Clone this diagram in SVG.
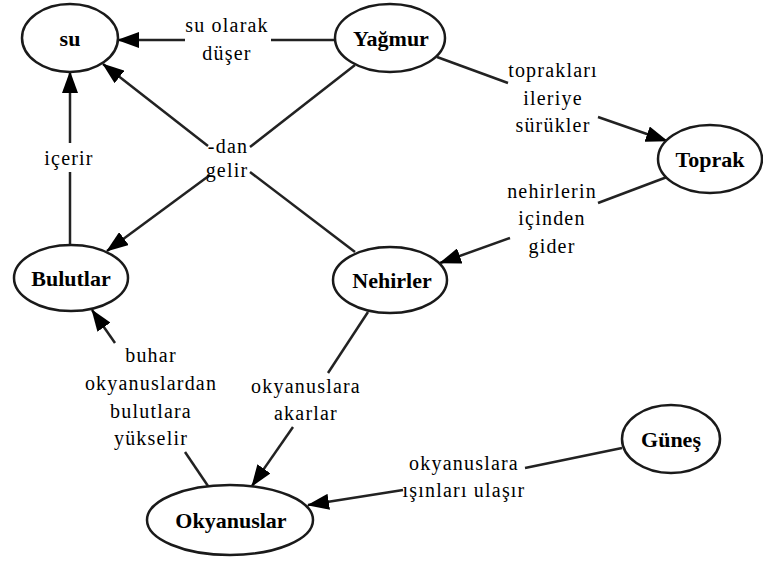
<svg xmlns="http://www.w3.org/2000/svg" width="763" height="561" viewBox="0 0 763 561">
<style>
.node ellipse{fill:#fff;stroke:#1a1a1a;stroke-width:2.5}
.node text{font-family:"Liberation Serif","Times New Roman",serif;font-weight:bold;font-size:22px;text-anchor:middle;fill:#000}
.lbl{font-family:"Liberation Serif","Times New Roman",serif;font-size:20px;letter-spacing:1.2px;text-anchor:middle;fill:#000}
.c line{stroke:#222;stroke-width:2.5;fill:none}
.c line.a{marker-end:url(#arr)}
</style>
<defs>
<marker id="arr" markerUnits="userSpaceOnUse" markerWidth="22" markerHeight="16" refX="21" refY="8" orient="auto">
<path d="M0,0 L22,8 L0,16 z" fill="#000"/>
</marker>
</defs>
<rect width="763" height="561" fill="#fff"/>
<g id="connectors" class="c">
<line x1="335" y1="40" x2="271" y2="40"/>
<line class="a" x1="185" y1="40" x2="118" y2="40"/>
<line x1="355" y1="65" x2="250" y2="147"/>
<line class="a" x1="208" y1="146" x2="103" y2="64"/>
<line class="a" x1="210" y1="175" x2="107" y2="251"/>
<line x1="250" y1="172" x2="355" y2="252"/>
<line x1="437" y1="57" x2="508" y2="83"/>
<line class="a" x1="598" y1="117" x2="667" y2="141"/>
<line x1="667" y1="177" x2="598" y2="203"/>
<line class="a" x1="510" y1="238" x2="440" y2="263"/>
<line x1="70" y1="245" x2="70" y2="172"/>
<line class="a" x1="70" y1="143" x2="70" y2="72"/>
<line x1="208" y1="486" x2="185" y2="452"/>
<line class="a" x1="115" y1="343" x2="92" y2="310"/>
<line x1="368" y1="312" x2="328" y2="373"/>
<line class="a" x1="293" y1="427" x2="252" y2="486"/>
<line x1="622" y1="448" x2="525" y2="468"/>
<line class="a" x1="403" y1="490" x2="308" y2="505"/>
</g>
<g id="labels">
<text class="lbl" x="227" y="32">su olarak</text>
<text class="lbl" x="227" y="60">düşer</text>
<text class="lbl" x="228" y="153">-dan</text>
<text class="lbl" x="227" y="177">gelir</text>
<text class="lbl" x="69" y="165">içerir</text>
<text class="lbl" x="553" y="77">toprakları</text>
<text class="lbl" x="553" y="105">ileriye</text>
<text class="lbl" x="553" y="132">sürükler</text>
<text class="lbl" x="552" y="198">nehirlerin</text>
<text class="lbl" x="552" y="225">içinden</text>
<text class="lbl" x="552" y="253">gider</text>
<text class="lbl" x="151" y="362">buhar</text>
<text class="lbl" x="151" y="390">okyanuslardan</text>
<text class="lbl" x="151" y="418">bulutlara</text>
<text class="lbl" x="151" y="445">yükselir</text>
<text class="lbl" x="306" y="393">okyanuslara</text>
<text class="lbl" x="306" y="420">akarlar</text>
<text class="lbl" x="464" y="470">okyanuslara</text>
<text class="lbl" x="464" y="497">ışınları ulaşır</text>
</g>
<g id="n-su" class="node"><ellipse cx="70" cy="38" rx="48" ry="34"/><text x="70" y="46">su</text></g>
<g id="n-yagmur" class="node"><ellipse cx="390" cy="38" rx="55" ry="34"/><text x="391" y="46">Yağmur</text></g>
<g id="n-toprak" class="node"><ellipse cx="710" cy="159" rx="52" ry="34"/><text x="710" y="167">Toprak</text></g>
<g id="n-bulutlar" class="node"><ellipse cx="71" cy="278" rx="57" ry="33"/><text x="71" y="286">Bulutlar</text></g>
<g id="n-nehirler" class="node"><ellipse cx="390" cy="280" rx="57" ry="33"/><text x="392" y="288">Nehirler</text></g>
<g id="n-okyanuslar" class="node"><ellipse cx="230" cy="520" rx="83" ry="35"/><text x="231" y="528">Okyanuslar</text></g>
<g id="n-gunes" class="node"><ellipse cx="671" cy="439" rx="49" ry="34"/><text x="671" y="447">Güneş</text></g>
</svg>
